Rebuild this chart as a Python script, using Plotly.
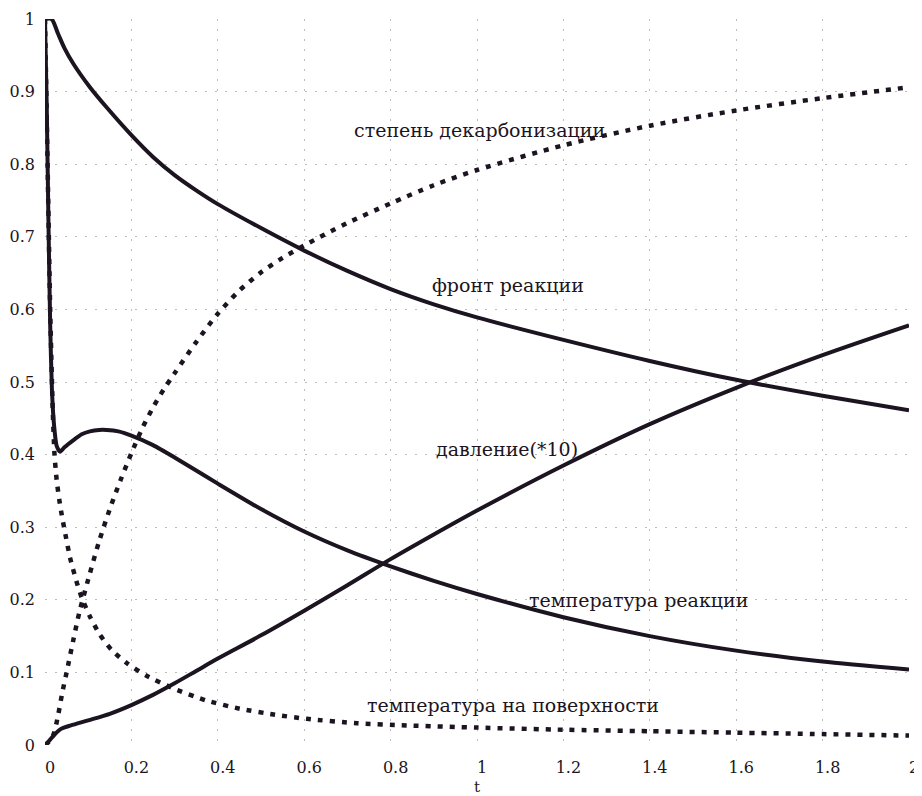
import plotly.graph_objects as go

# ---- data ----
front_x = [0, 0.015, 0.03, 0.045, 0.066, 0.104, 0.143, 0.2, 0.25, 0.3, 0.35, 0.4, 0.5, 0.6, 0.7, 0.8, 0.9, 1.0, 1.2, 1.4, 1.6, 1.8, 2.0]
front_y = [1.0, 1.0, 0.98, 0.96, 0.938, 0.906, 0.878, 0.84, 0.81, 0.785, 0.764, 0.745, 0.712, 0.681, 0.653, 0.628, 0.607, 0.589, 0.558, 0.529, 0.503, 0.481, 0.461]

press_x = [0, 0.01, 0.02, 0.03, 0.04, 0.06, 0.1, 0.15, 0.2, 0.25, 0.3, 0.35, 0.4, 0.5, 0.6, 0.7, 0.8, 0.9, 1.0, 1.2, 1.4, 1.6, 1.8, 2.0]
press_y = [0, 0.006, 0.013, 0.019, 0.023, 0.027, 0.034, 0.043, 0.055, 0.069, 0.085, 0.102, 0.119, 0.151, 0.185, 0.22, 0.256, 0.29, 0.323, 0.385, 0.442, 0.492, 0.537, 0.578]

treac_x = [0, 0.004, 0.008, 0.012, 0.016, 0.021, 0.027, 0.035, 0.045, 0.066, 0.085, 0.104, 0.125, 0.143, 0.17, 0.2, 0.25, 0.3, 0.35, 0.4, 0.5, 0.6, 0.7, 0.8, 0.9, 1.0, 1.2, 1.4, 1.6, 1.8, 2.0]
treac_y = [1.0, 0.88, 0.72, 0.58, 0.49, 0.44, 0.412, 0.404, 0.41, 0.42, 0.428, 0.432, 0.434, 0.434, 0.432, 0.426, 0.413, 0.396, 0.378, 0.36, 0.325, 0.294, 0.268, 0.246, 0.226, 0.208, 0.176, 0.15, 0.13, 0.115, 0.104]

decarb_x = [0, 0.01, 0.02, 0.03, 0.04, 0.05, 0.065, 0.08, 0.1, 0.125, 0.15, 0.175, 0.2, 0.225, 0.25, 0.275, 0.3, 0.35, 0.4, 0.45, 0.5, 0.55, 0.6, 0.65, 0.7, 0.8, 0.9, 1.0, 1.2, 1.4, 1.6, 1.8, 2.0]
decarb_y = [0, 0.005, 0.015, 0.04, 0.072, 0.1, 0.143, 0.184, 0.228, 0.28, 0.325, 0.365, 0.402, 0.436, 0.465, 0.49, 0.512, 0.555, 0.594, 0.626, 0.651, 0.671, 0.688, 0.704, 0.719, 0.746, 0.771, 0.792, 0.826, 0.853, 0.874, 0.891, 0.906]

tsurf_x = [0, 0.006, 0.012, 0.018, 0.022, 0.027, 0.033, 0.039, 0.046, 0.058, 0.073, 0.085, 0.104, 0.127, 0.154, 0.189, 0.236, 0.297, 0.375, 0.451, 0.529, 0.606, 0.722, 0.837, 1.0, 1.2, 1.4, 1.6, 1.8, 2.0]
tsurf_y = [1.0, 0.8, 0.6, 0.46, 0.4, 0.365, 0.338, 0.316, 0.294, 0.258, 0.225, 0.203, 0.177, 0.152, 0.131, 0.113, 0.095, 0.078, 0.061, 0.05, 0.042, 0.036, 0.03, 0.027, 0.024, 0.021, 0.019, 0.017, 0.015, 0.013]

x_ticks = [0, 0.2, 0.4, 0.6, 0.8, 1.0, 1.2, 1.4, 1.6, 1.8, 2.0]
x_tick_text = ["0", "0.2", "0.4", "0.6", "0.8", "1", "1.2", "1.4", "1.6", "1.8", "2"]
y_ticks = [0, 0.1, 0.2, 0.3, 0.4, 0.5, 0.6, 0.7, 0.8, 0.9, 1.0]
y_tick_text = ["0", "0.1", "0.2", "0.3", "0.4", "0.5", "0.6", "0.7", "0.8", "0.9", "1"]

labels = ["степень декарбонизации", "фронт реакции", "давление(*10)", "температура реакции", "температура на поверхности"]
label_x = [1.005, 1.072, 1.07, 1.373, 1.083]
label_y = [0.847, 0.634, 0.408, 0.2, 0.055]

INK = "#1c1420"
FONT = "DejaVu Serif, Noto Serif, serif"

fig = go.Figure()
solid = dict(color=INK, width=4)
dotted = dict(color=INK, width=4.5, dash="5px,7px")

fig.add_trace(go.Scatter(x=front_x, y=front_y, mode="lines", line=dict(**solid, shape="spline", smoothing=0.8)))
fig.add_trace(go.Scatter(x=press_x, y=press_y, mode="lines", line=dict(**solid, shape="spline", smoothing=0.8)))
fig.add_trace(go.Scatter(x=treac_x, y=treac_y, mode="lines", line=dict(**solid, shape="spline", smoothing=0.6)))
fig.add_trace(go.Scatter(x=decarb_x, y=decarb_y, mode="lines", line=dict(**dotted, shape="spline", smoothing=0.8)))
fig.add_trace(go.Scatter(x=tsurf_x, y=tsurf_y, mode="lines", line=dict(**dotted, shape="spline", smoothing=0.6)))

for t, lx, ly in zip(labels, label_x, label_y):
    fig.add_annotation(x=lx, y=ly, xref="x", yref="y", text=t, showarrow=False,
                       font=dict(family=FONT, size=19, color=INK))

grid = dict(showgrid=True, gridcolor="#bcbcbc", gridwidth=1, griddash="2px,8px",
            zeroline=False, showline=False, ticks="", automargin=False,
            tickfont=dict(family=FONT, size=16, color=INK))

fig.update_xaxes(range=[0, 2], tickvals=x_ticks, ticktext=x_tick_text,
                 ticklabelshift=5, ticklabelstandoff=11,
                 title=dict(text="t", font=dict(family=FONT, size=15, color=INK), standoff=6),
                 **grid)
fig.update_yaxes(range=[0, 1], tickvals=y_ticks, ticktext=y_tick_text,
                 ticklabelstandoff=9, **grid)

fig.update_layout(width=914, height=788, showlegend=False,
                  margin=dict(l=37, r=13, t=11, b=51, autoexpand=False),
                  paper_bgcolor="white", plot_bgcolor="white")

fig.write_html("out.html")
